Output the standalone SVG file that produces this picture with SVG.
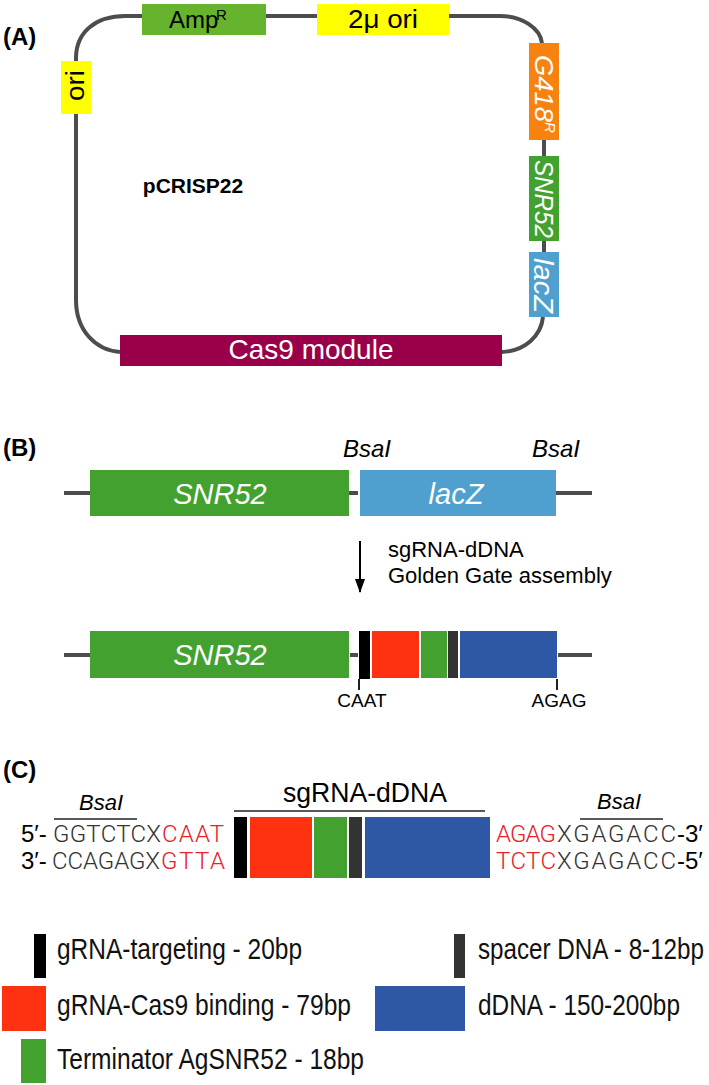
<svg xmlns="http://www.w3.org/2000/svg" width="709" height="1085" viewBox="0 0 709 1085">
<style>
.t{font-family:"Liberation Sans",Arial,sans-serif}
.lbl{font-family:"Liberation Sans",Arial,sans-serif;font-weight:bold;font-size:24px;fill:#000}
.bb{stroke:#4d4d4d;stroke-width:4;fill:none}
.w{fill:#fff}
.it{font-style:italic}
.seq{font-family:Roboto,"Liberation Sans",sans-serif;font-weight:300;font-size:24px;fill:#333}
.red{fill:#e8202a}
.leg{font-family:"Liberation Sans",Arial,sans-serif;font-size:29px;fill:#111}
</style>
<defs>
<marker id="ah" markerWidth="14" markerHeight="10" refX="13" refY="5" orient="auto" markerUnits="userSpaceOnUse" viewBox="0 0 14 10">
<path d="M0,0 L14,5 L0,10 Z" fill="#000"/>
</marker>
</defs>
<rect width="709" height="1085" fill="#fff"/>

<text class="lbl" x="3" y="45">(A)</text>
<text class="lbl" x="3" y="456">(B)</text>
<text class="lbl" x="3" y="778">(C)</text>

<g id="connectors">
<path class="bb" d="M76,61 L76,58 C76,32 96,16 125,16 L142,16"/>
<path class="bb" d="M266,16 L317,16"/>
<path class="bb" d="M449,16 L500,16 C522,16 540,28 542,43"/>
<path class="bb" d="M544,140 L544,156"/>
<path class="bb" d="M544,241 L544,252"/>
<path class="bb" d="M543,317 C541,336 525,351 502,352"/>
<path class="bb" d="M120,352 C95,350 76,330 76,300 L76,114"/>
<path class="bb" d="M64,493 L90,493"/>
<path class="bb" d="M349,493 L358,493"/>
<path class="bb" d="M556,493 L592,493"/>
<path class="bb" d="M64,655 L90,655"/>
<path class="bb" d="M350,655 L358,655"/>
<path class="bb" d="M558,655 L592,655"/>
<path d="M360,541 L360,592" stroke="#000" stroke-width="2" marker-end="url(#ah)"/>
<path d="M359,679 L359,690 M557,679 L557,690" stroke="#222" stroke-width="2"/>
<path d="M54,819 L137,819 M234,811 L485,811 M580,819 L663,819" stroke="#222" stroke-width="1.5"/>
</g>

<g id="pcrisp22">
<text class="t" x="193" y="193" font-size="21" font-weight="bold" text-anchor="middle">pCRISP22</text>
</g>
<g id="ampr">
<rect x="142" y="4" width="124" height="31" fill="#66b32e"/>
<text class="t" x="169" y="28" font-size="24">Amp</text>
<text class="t" x="216" y="20" font-size="15">R</text>
</g>
<g id="twomu">
<rect x="317" y="4" width="132" height="31" fill="#ffff00"/>
<text class="t" x="348" y="28" font-size="26" textLength="70" lengthAdjust="spacingAndGlyphs">2μ ori</text>
</g>
<g id="ori">
<rect x="61" y="61" width="30" height="53" fill="#ffff00"/>
<text class="t" font-size="26" transform="translate(76,101) rotate(-90)" x="0" y="8" textLength="31" lengthAdjust="spacingAndGlyphs">ori</text>
</g>
<g id="g418">
<rect x="529" y="43" width="30" height="97" fill="#f7820f"/>
<text class="t it w" font-size="26" transform="translate(544,55) rotate(90)" x="0" y="9"><tspan textLength="67" lengthAdjust="spacingAndGlyphs">G418</tspan><tspan font-size="15" dy="-10">R</tspan></text>
</g>
<g id="snr52a">
<rect x="529" y="156" width="30" height="85" fill="#43a22f"/>
<text class="t it w" font-size="26" transform="translate(544,160) rotate(90)" x="0" y="9" textLength="78" lengthAdjust="spacingAndGlyphs">SNR52</text>
</g>
<g id="lacza">
<rect x="529" y="252" width="30" height="65" fill="#4fa0cf"/>
<text class="t it w" font-size="27" transform="translate(544,258) rotate(90)" x="0" y="10" textLength="55" lengthAdjust="spacingAndGlyphs">lacZ</text>
</g>
<g id="cas9">
<rect x="120" y="335" width="382" height="31" fill="#990049"/>
<text class="t w" x="311" y="359" font-size="28" text-anchor="middle">Cas9 module</text>
</g>

<g id="bsai-b">
<text class="t it" x="343" y="457" font-size="24">BsaI</text>
<text class="t it" x="532" y="457" font-size="24">BsaI</text>
</g>
<g id="snr52-b1">
<rect x="90" y="470" width="259" height="46" fill="#43a22f"/>
<text class="t it w" x="220" y="504" font-size="29" text-anchor="middle">SNR52</text>
</g>
<g id="lacz-b1">
<rect x="360" y="470" width="196" height="46" fill="#4fa0cf"/>
<text class="t it w" x="456" y="504" font-size="29" text-anchor="middle">lacZ</text>
</g>
<g id="assembly-label">
<text class="t" x="388" y="557" font-size="22">sgRNA-dDNA</text>
<text class="t" x="388" y="583" font-size="22">Golden Gate assembly</text>
</g>
<g id="snr52-b2">
<rect x="90" y="631" width="259" height="47" fill="#43a22f"/>
<text class="t it w" x="220" y="665" font-size="29" text-anchor="middle">SNR52</text>
</g>
<g id="insert-b2">
<rect x="359" y="631" width="11" height="48" fill="#000"/>
<rect x="372" y="631" width="47" height="47" fill="#fe3211"/>
<rect x="421" y="631" width="26" height="47" fill="#43a22f"/>
<rect x="448" y="631" width="10" height="47" fill="#333"/>
<rect x="460" y="631" width="97" height="47" fill="#2e58a6"/>
</g>
<g id="overhangs-b">
<text class="t" x="362" y="707" font-size="19" text-anchor="middle">CAAT</text>
<text class="t" x="559" y="707" font-size="19" text-anchor="middle">AGAG</text>
</g>

<g id="seq-left">
<text class="t it" x="79" y="810" font-size="22">BsaI</text>
<text class="t" x="21" y="842" font-size="24">5′-</text>
<text class="seq" x="53" y="842" textLength="108" lengthAdjust="spacing">GGTCTCX</text>
<text class="seq red" x="162" y="842" textLength="62" lengthAdjust="spacing">CAAT</text>
<text class="t" x="21" y="869" font-size="24">3′-</text>
<text class="seq" x="52" y="869" textLength="108" lengthAdjust="spacing">CCAGAGX</text>
<text class="seq red" x="161" y="869" textLength="64" lengthAdjust="spacing">GTTA</text>
</g>
<g id="sgrna-ddna">
<text class="t" x="283" y="802" font-size="27" textLength="164" lengthAdjust="spacingAndGlyphs">sgRNA-dDNA</text>
<rect x="234" y="817" width="13" height="61" fill="#000"/>
<rect x="250" y="817" width="62" height="61" fill="#fe3211"/>
<rect x="314" y="817" width="33" height="61" fill="#43a22f"/>
<rect x="349" y="817" width="13" height="61" fill="#333"/>
<rect x="365" y="817" width="125" height="61" fill="#2e58a6"/>
</g>
<g id="seq-right">
<text class="t it" x="597" y="809" font-size="22">BsaI</text>
<text class="seq red" x="496" y="842" textLength="60" lengthAdjust="spacing">AGAG</text>
<text class="seq" x="557" y="842" textLength="119" lengthAdjust="spacing">XGAGACC</text>
<text class="t" x="677" y="842" font-size="24">-3′</text>
<text class="seq red" x="496" y="869" textLength="60" lengthAdjust="spacing">TCTC</text>
<text class="seq" x="557" y="869" textLength="119" lengthAdjust="spacing">XGAGACC</text>
<text class="t" x="677" y="869" font-size="24">-5′</text>
</g>

<g id="legend-targeting">
<rect x="34" y="934" width="12" height="44" fill="#000"/>
<text class="leg" x="57" y="959" textLength="245" lengthAdjust="spacingAndGlyphs">gRNA-targeting - 20bp</text>
</g>
<g id="legend-spacer">
<rect x="454" y="934" width="11" height="44" fill="#333"/>
<text class="leg" x="478" y="959" textLength="226" lengthAdjust="spacingAndGlyphs">spacer DNA - 8-12bp</text>
</g>
<g id="legend-binding">
<rect x="2" y="986" width="44" height="45" fill="#fe3211"/>
<text class="leg" x="57" y="1015" textLength="294" lengthAdjust="spacingAndGlyphs">gRNA-Cas9 binding - 79bp</text>
</g>
<g id="legend-ddna">
<rect x="375" y="986" width="90" height="45" fill="#2e58a6"/>
<text class="leg" x="478" y="1015" textLength="202" lengthAdjust="spacingAndGlyphs">dDNA - 150-200bp</text>
</g>
<g id="legend-terminator">
<rect x="21" y="1039" width="25" height="44" fill="#43a22f"/>
<text class="leg" x="57" y="1069" textLength="307" lengthAdjust="spacingAndGlyphs">Terminator AgSNR52 - 18bp</text>
</g>
</svg>
